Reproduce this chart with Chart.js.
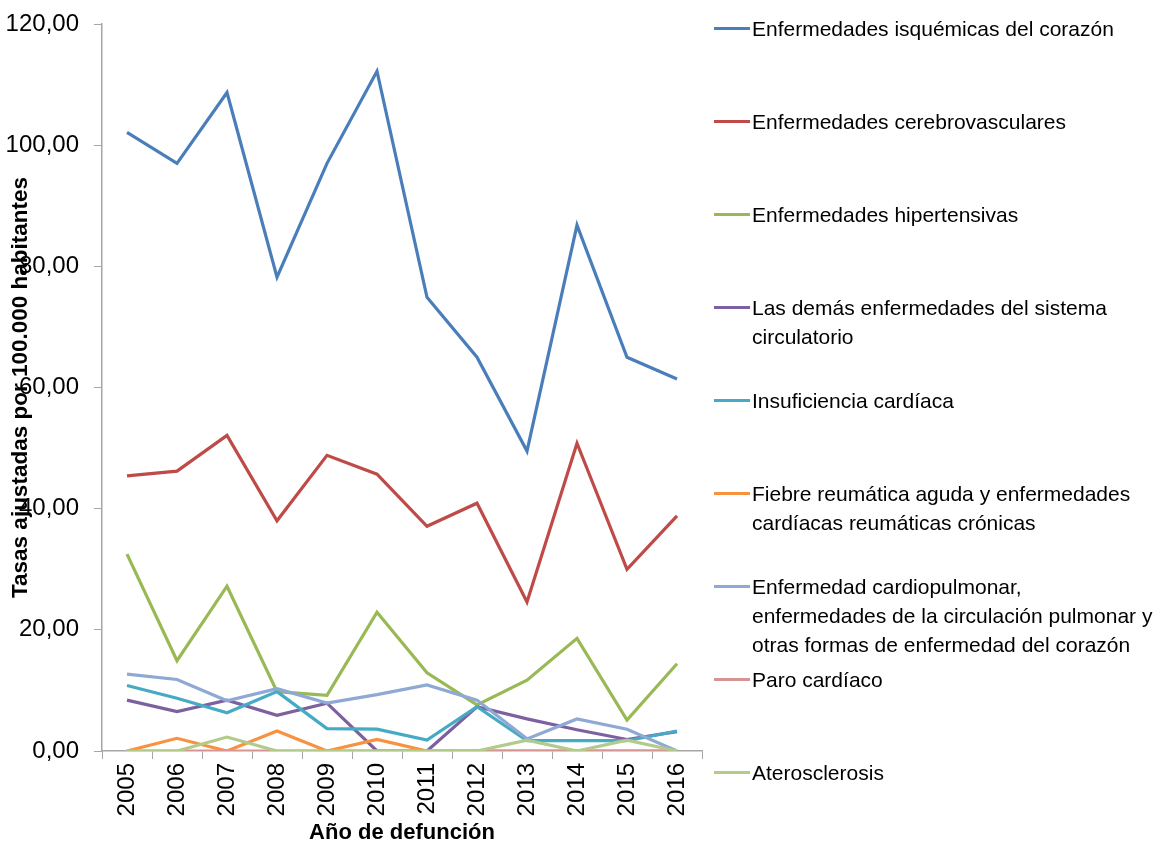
<!DOCTYPE html>
<html>
<head>
<meta charset="utf-8">
<script src="https://cdn.jsdelivr.net/npm/chart.js@4/dist/chart.umd.min.js"></script>
<style>
  html, body { margin: 0; padding: 0; background: #fff; }
  #wrap { position: relative; width: 1161px; height: 846px; }
  #legend { position: absolute; left: 0; top: 0; }
  .item { position: absolute; left: 714px; width: 445px; display: flex; align-items: flex-start;
          font-family: 'Liberation Sans', Arial, sans-serif; font-size: 21px; line-height: 29px; color: #000; }
  .item .mk { width: 36px; height: 3px; margin-top: 13px; flex: none; }
  .item .tx { width: 405px; padding-left: 2px; }
</style>
</head>
<body>
<div id="wrap">
  <canvas id="myLineChart" width="1161" height="846"></canvas>
  <div id="legend"></div>
</div>
<script>
// Años de defunción
const years = ["2005", "2006", "2007", "2008", "2009", "2010", "2011", "2012", "2013", "2014", "2015", "2016"];

// Tasas ajustadas por 100.000 habitantes
const isquemicas      = [102.1, 97.0, 108.7, 78.2, 97.0, 112.2, 74.9, 65.0, 49.5, 86.8, 65.0, 61.4];
const cerebrovasc     = [45.4, 46.2, 52.1, 38.0, 48.8, 45.7, 37.1, 40.9, 24.6, 50.8, 30.0, 38.8];
const hipertensivas   = [32.5, 14.9, 27.2, 9.8, 9.2, 22.9, 12.9, 7.6, 11.7, 18.6, 5.1, 14.4];
const lasDemas        = [8.4, 6.5, 8.4, 5.9, 7.9, 0.0, 0.0, 7.3, 5.3, 3.5, 1.9, 3.2];
const insuficiencia   = [10.8, 8.7, 6.3, 9.8, 3.7, 3.6, 1.8, 7.3, 1.7, 1.7, 1.7, 3.3];
const fiebreReumatica = [0.0, 2.1, 0.0, 3.3, 0.0, 1.9, 0.0, 0.0, 0.0, 0.0, 0.0, 0.0];
const cardiopulmonar  = [12.7, 11.8, 8.3, 10.3, 7.9, 9.3, 10.9, 8.4, 2.0, 5.3, 3.6, 0.0];
const paroCardiaco    = [0, 0, 0, 0, 0, 0, 0, 0, 0, 0, 0, 0];
const aterosclerosis  = [0.0, 0.0, 2.3, 0.0, 0.0, 0.0, 0.0, 0.0, 1.8, 0.0, 1.8, 0.0];

const seriesNames = [
  "Enfermedades isquémicas del corazón",
  "Enfermedades cerebrovasculares",
  "Enfermedades hipertensivas",
  "Las demás enfermedades del sistema circulatorio",
  "Insuficiencia cardíaca",
  "Fiebre reumática aguda y enfermedades cardíacas reumáticas crónicas",
  "Enfermedad cardiopulmonar, enfermedades de la circulación pulmonar y otras formas de enfermedad del corazón",
  "Paro cardíaco",
  "Aterosclerosis"
];
const seriesValues = [isquemicas, cerebrovasc, hipertensivas, lasDemas, insuficiencia,
                      fiebreReumatica, cardiopulmonar, paroCardiaco, aterosclerosis];
const seriesColors = ['#4A7EBB', '#BE4B48', '#98B954', '#7D60A0', '#46AAC5',
                      '#F69240', '#8EA9D3', '#D59593', '#B3CB8A'];
const yTicks = [0, 20, 40, 60, 80, 100, 120];

const FONT = "'Liberation Sans', Arial, sans-serif";

// títulos de ejes dibujados a mano (el del eje Y se superpone a las etiquetas)
const axisTitles = {
  id: 'axisTitles',
  afterDraw(chart) {
    const ctx = chart.ctx, a = chart.chartArea;
    ctx.save();
    ctx.fillStyle = '#000';
    ctx.font = "bold 22.5px " + FONT;
    ctx.textAlign = 'center';
    ctx.textBaseline = 'middle';
    ctx.translate(21, (a.top + a.bottom) / 2);
    ctx.rotate(-Math.PI / 2);
    ctx.fillText("Tasas ajustadas por 100.000 habitantes", 0, 0);
    ctx.restore();
    ctx.save();
    ctx.fillStyle = '#000';
    ctx.font = "bold 22px " + FONT;
    ctx.textAlign = 'center';
    ctx.textBaseline = 'middle';
    ctx.fillText("Año de defunción", (a.left + a.right) / 2, 833);
    ctx.restore();
  }
};

var ctx = document.getElementById("myLineChart");
var myLineChart = new Chart(ctx, {
  type: 'line',
  data: {
    labels: years,
    datasets: seriesNames.map((name, i) => ({
      label: name,
      data: seriesValues[i],
      borderColor: seriesColors[i],
      backgroundColor: seriesColors[i],
      borderWidth: 3.2,
      pointRadius: 0,
      tension: 0,
      fill: false,
      order: seriesNames.length - i
    }))
  },
  options: {
    responsive: false,
    animation: false,
    layout: { padding: { top: 24, right: 459, left: 0, bottom: 0 } },
    plugins: {
      legend: { display: false },
      tooltip: { enabled: false }
    },
    scales: {
      x: {
        offset: true,
        afterFit: s => { s.height = 95; s.paddingLeft = 0; s.paddingRight = 0; },
        grid: { offset: true, drawOnChartArea: false, drawTicks: true, tickLength: 8, color: '#A6A6A6', lineWidth: 1 },
        border: { color: '#A6A6A6', width: 1.5 },
        ticks: { minRotation: 90, maxRotation: 90, padding: 4, color: '#000', font: { family: FONT, size: 24 } }
      },
      y: {
        min: 0,
        max: 120,
        afterFit: s => { s.width = 102; s.paddingTop = 0; s.paddingBottom = 0; },
        afterBuildTicks: s => { s.ticks = yTicks.map(v => ({ value: v })); },
        grid: { drawOnChartArea: false, drawTicks: true, tickLength: 8, color: '#A6A6A6', lineWidth: 1 },
        border: { color: '#A6A6A6', width: 1.5 },
        ticks: {
          padding: 15,
          color: '#000',
          font: { family: FONT, size: 24 },
          callback: v => v.toFixed(2).replace('.', ',')
        }
      }
    }
  },
  plugins: [axisTitles]
});

// leyenda a la derecha, repartida en toda la altura como en el original
const legendEl = document.getElementById('legend');
seriesNames.forEach((name, i) => {
  const it = document.createElement('div');
  it.className = 'item';
  it.style.top = (14 + i * 93) + 'px';
  it.innerHTML = '<span class="mk" style="background:' + seriesColors[i] + '"></span><span class="tx"></span>';
  it.querySelector('.tx').textContent = name;
  legendEl.appendChild(it);
});
</script>
</body>
</html>
